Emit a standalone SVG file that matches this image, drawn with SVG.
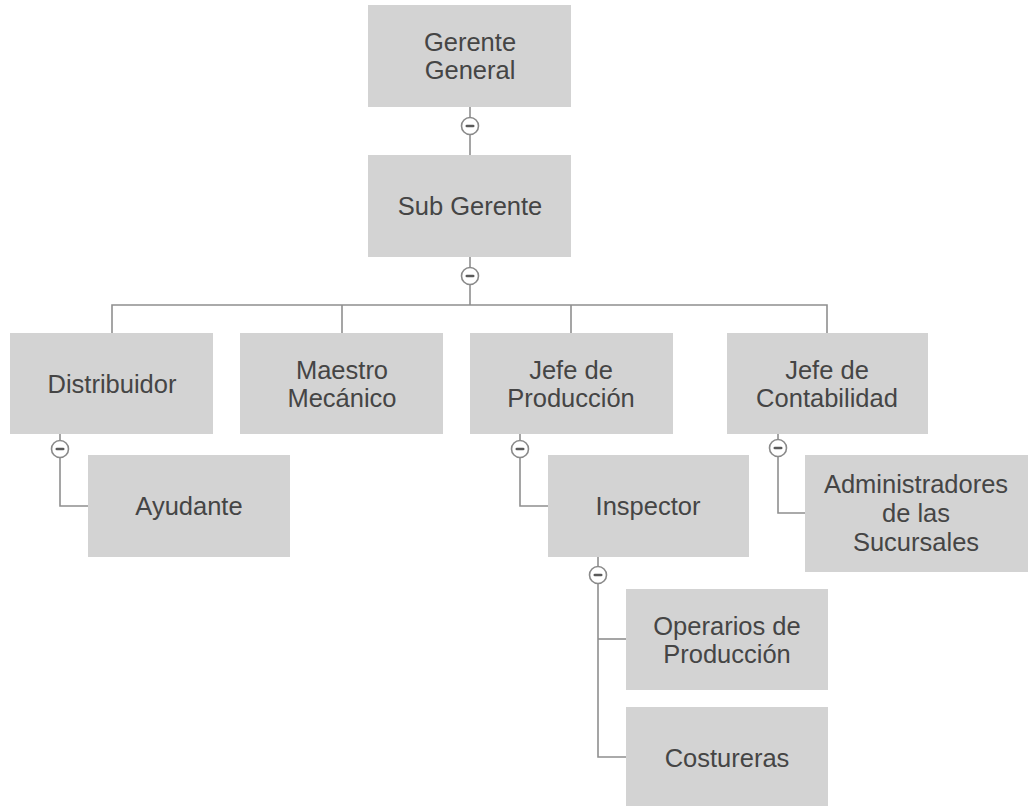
<svg xmlns="http://www.w3.org/2000/svg" width="1029" height="806" viewBox="0 0 1029 806">
  <defs>
    <style>
      .box { fill: #d3d3d3; }
      .lbl { font-family: "Liberation Sans", Arial, sans-serif; font-size: 25.5px; fill: #454545; text-anchor: middle; }
      .wire { fill: none; stroke: #8f8f8f; stroke-width: 1.6; }
      .knob { fill: #ffffff; stroke: #8a8a8a; stroke-width: 1.6; }
      .minus { stroke: #5a5a5a; stroke-width: 2.6; stroke-linecap: round; }
    </style>
    <g id="toggle">
      <circle class="knob" cx="0" cy="0" r="8.5"/>
      <line class="minus" x1="-3.2" y1="0" x2="3.2" y2="0"/>
    </g>
  </defs>

  <rect width="1029" height="806" fill="#ffffff"/>

  <!-- connectors -->
  <g id="connectors">
    <path class="wire" d="M470 107 V155"/>
    <path class="wire" d="M470 257 V305"/>
    <path class="wire" d="M112 333 V305 H827 V333"/>
    <path class="wire" d="M342 305 V333"/>
    <path class="wire" d="M571 305 V333"/>
    <path class="wire" d="M60 434 V506 H88"/>
    <path class="wire" d="M520 434 V506 H548"/>
    <path class="wire" d="M778 434 V513 H805"/>
    <path class="wire" d="M598 557 V757 H626"/>
    <path class="wire" d="M598 639 H626"/>
    <use href="#toggle" x="470" y="126"/>
    <use href="#toggle" x="470" y="276"/>
    <use href="#toggle" x="60" y="449"/>
    <use href="#toggle" x="520" y="449"/>
    <use href="#toggle" x="778" y="448"/>
    <use href="#toggle" x="598" y="575"/>
  </g>

  <g id="gerente-general">
    <rect class="box" x="368" y="5" width="203" height="102"/>
    <text class="lbl" x="470" y="51">Gerente</text>
    <text class="lbl" x="470" y="79">General</text>
  </g>

  <g id="sub-gerente">
    <rect class="box" x="368" y="155" width="203" height="102"/>
    <text class="lbl" x="470" y="215">Sub Gerente</text>
  </g>

  <g id="distribuidor">
    <rect class="box" x="10" y="333" width="203" height="101"/>
    <text class="lbl" x="112" y="393">Distribuidor</text>
  </g>

  <g id="maestro-mecanico">
    <rect class="box" x="240" y="333" width="203" height="101"/>
    <text class="lbl" x="342" y="379">Maestro</text>
    <text class="lbl" x="342" y="407">Mecánico</text>
  </g>

  <g id="jefe-produccion">
    <rect class="box" x="470" y="333" width="203" height="101"/>
    <text class="lbl" x="571" y="379">Jefe de</text>
    <text class="lbl" x="571" y="407">Producción</text>
  </g>

  <g id="jefe-contabilidad">
    <rect class="box" x="727" y="333" width="201" height="101"/>
    <text class="lbl" x="827" y="379">Jefe de</text>
    <text class="lbl" x="827" y="407">Contabilidad</text>
  </g>

  <g id="ayudante">
    <rect class="box" x="88" y="455" width="202" height="102"/>
    <text class="lbl" x="189" y="515">Ayudante</text>
  </g>

  <g id="inspector">
    <rect class="box" x="548" y="455" width="201" height="102"/>
    <text class="lbl" x="648" y="515">Inspector</text>
  </g>

  <g id="administradores">
    <rect class="box" x="805" y="455" width="223" height="117"/>
    <text class="lbl" x="916" y="493">Administradores</text>
    <text class="lbl" x="916" y="522">de las</text>
    <text class="lbl" x="916" y="551">Sucursales</text>
  </g>

  <g id="operarios">
    <rect class="box" x="626" y="589" width="202" height="101"/>
    <text class="lbl" x="727" y="635">Operarios de</text>
    <text class="lbl" x="727" y="663">Producción</text>
  </g>

  <g id="costureras">
    <rect class="box" x="626" y="707" width="202" height="102"/>
    <text class="lbl" x="727" y="767">Costureras</text>
  </g>
</svg>
